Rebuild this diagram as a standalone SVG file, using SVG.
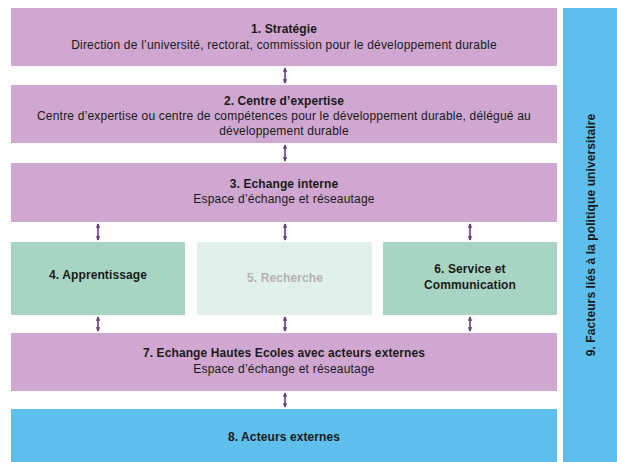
<svg xmlns="http://www.w3.org/2000/svg" width="617" height="462" viewBox="0 0 617 462">
<defs>
<style>
.pink{fill:#cfa7d1}
.green{fill:#a8d5c3}
.pale{fill:#e1f0ea}
.blue{fill:#5ebfec}
text{font-family:"Liberation Sans",Arial,sans-serif;font-size:12px;letter-spacing:0.2px;fill:#1a1a1a;text-anchor:middle}
.b{font-weight:bold;letter-spacing:0.1px}
.grey{fill:#b3b3b3}
.conn{stroke:#6b3a7c;stroke-width:1.6;fill:none;marker-start:url(#ah);marker-end:url(#ah)}
</style>
<marker id="ah" viewBox="0 0 6 6" refX="5" refY="3" markerWidth="4.5" markerHeight="4.5" orient="auto-start-reverse" markerUnits="userSpaceOnUse">
<path d="M0,0 L6,3 L0,6 z" fill="#6b3a7c"/>
</marker>
</defs>
<rect width="617" height="462" fill="#ffffff"/>
<g id="n1"><rect class="pink" x="11" y="8" width="546" height="58"/>
<text x="284" y="33" class="b">1. Stratégie</text>
<text x="284" y="49">Direction de l’université, rectorat, commission pour le développement durable</text></g>
<g id="n2"><rect class="pink" x="11" y="85" width="546" height="58"/>
<text x="284" y="105" class="b">2. Centre d’expertise</text>
<text x="284" y="120">Centre d’expertise ou centre de compétences pour le développement durable, délégué au</text>
<text x="284" y="135">développement durable</text></g>
<g id="n3"><rect class="pink" x="11" y="163" width="546" height="59"/>
<text x="284" y="188" class="b">3. Echange interne</text>
<text x="284" y="203">Espace d’échange et réseautage</text></g>
<g id="n4"><rect class="green" x="11" y="242" width="174" height="73"/>
<text x="98" y="279" class="b">4. Apprentissage</text></g>
<g id="n5"><rect class="pale" x="197" y="242" width="175" height="73"/>
<text x="285" y="282" class="b grey">5. Recherche</text></g>
<g id="n6"><rect class="green" x="383" y="242" width="174" height="73"/>
<text x="470" y="273" class="b">6. Service et</text>
<text x="470" y="289" class="b">Communication</text></g>
<g id="n7"><rect class="pink" x="11" y="333" width="546" height="58"/>
<text x="284" y="357" class="b">7. Echange Hautes Ecoles avec acteurs externes</text>
<text x="284" y="373">Espace d’échange et réseautage</text></g>
<g id="n8"><rect class="blue" x="11" y="409" width="546" height="53"/>
<text x="284" y="441" class="b">8. Acteurs externes</text></g>
<g id="n9"><rect class="blue" x="563" y="8" width="54" height="454"/>
<text x="0" y="0" class="b" transform="translate(595,235) rotate(-90)">9. Facteurs liés à la politique universitaire</text></g>
<g id="connectors">
<line class="conn" x1="285" y1="68" x2="285" y2="83"/>
<line class="conn" x1="285" y1="145" x2="285" y2="161"/>
<line class="conn" x1="98" y1="224" x2="98" y2="240"/>
<line class="conn" x1="285" y1="224" x2="285" y2="240"/>
<line class="conn" x1="470" y1="224" x2="470" y2="240"/>
<line class="conn" x1="98" y1="317" x2="98" y2="331"/>
<line class="conn" x1="285" y1="317" x2="285" y2="331"/>
<line class="conn" x1="470" y1="317" x2="470" y2="331"/>
<line class="conn" x1="285" y1="393" x2="285" y2="407"/>
</g>
</svg>
